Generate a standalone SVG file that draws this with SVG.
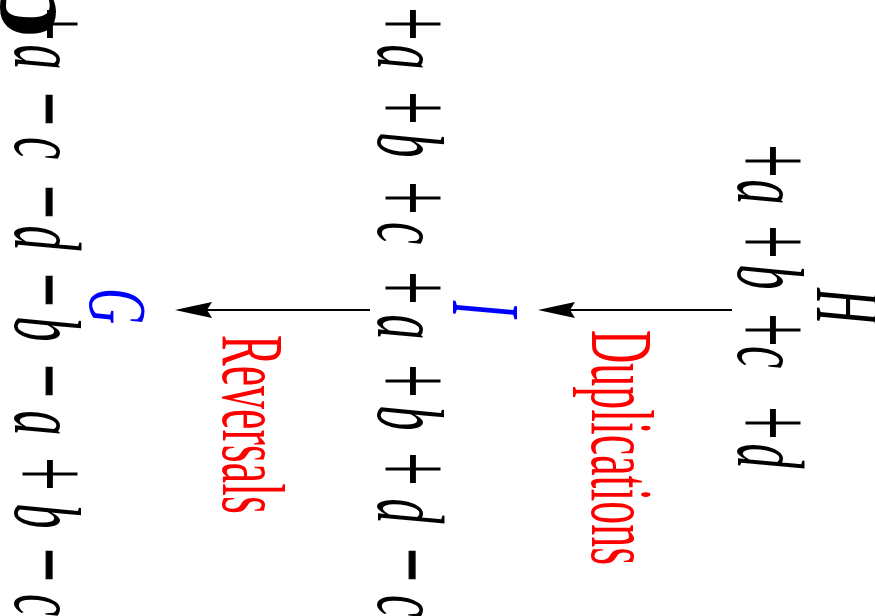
<svg xmlns="http://www.w3.org/2000/svg" width="875" height="616" viewBox="0 0 875 616">
<style>
  .m { font-family: "Liberation Serif", "Times New Roman", serif; font-style: italic; font-size: 50px; text-anchor: middle; fill: #000; }
  .op { font-family: "Liberation Serif", "Times New Roman", serif; font-size: 60px; text-anchor: middle; fill: #000; }
  .mi { stroke: #000; stroke-width: 0.6px; }
  .lbl { font-family: "Liberation Serif", "Times New Roman", serif; font-size: 46px; fill: #ff0000; }
  .blue { fill: #0000ff; }
  .conn { stroke: #000; stroke-width: 2; fill: none; }
  .head { fill: #000; stroke: none; }
  .panel { font-family: "Liberation Serif", "Times New Roman", serif; font-weight: bold; font-size: 116px; fill: #000; }
</style>

<g id="connectors">
  <line class="conn" x1="732" y1="310" x2="570" y2="310"/>
  <path class="head" d="M538,310 Q556,306 575,302 L570,310 L575,318 Q556,314 538,310 Z"/>
  <line class="conn" x1="370" y1="310" x2="207" y2="310"/>
  <path class="head" d="M175,310 Q193,306 212,302 L207,310 L212,318 Q193,314 175,310 Z"/>
</g>

<g id="edge-labels">
  <text class="lbl" transform="translate(592,330) rotate(90) scale(1,1.94)">Duplications</text>
  <text class="lbl" transform="translate(223,335) rotate(90) scale(1,1.94)">Reversals</text>
</g>

<g id="H">
  <text class="m" transform="translate(817,306) rotate(90) scale(1,1.85)">H</text>
  <text class="op" transform="translate(733,161) rotate(90) scale(1,1.97)">+</text>
  <text class="m" transform="translate(738,192) rotate(90) scale(1,1.9)">a</text>
  <text class="op" transform="translate(733,242) rotate(90) scale(1,1.97)">+</text>
  <text class="m" transform="translate(738,277) rotate(90) scale(1,1.9)">b</text>
  <text class="op" transform="translate(733,330) rotate(90) scale(1,1.97)">+</text>
  <text class="m" transform="translate(738,357) rotate(90) scale(1,1.9)">c</text>
  <text class="op" transform="translate(733,423) rotate(90) scale(1,1.97)">+</text>
  <text class="m" transform="translate(738,456) rotate(90) scale(1,1.9)">d</text>
</g>

<g id="I">
  <text class="m blue" transform="translate(453,309) rotate(90) scale(1,1.95)">I</text>
  <text class="op" transform="translate(373,24) rotate(90) scale(1,1.97)">+</text>
  <text class="m" transform="translate(378,57) rotate(90) scale(1,1.9)">a</text>
  <text class="op" transform="translate(373,108) rotate(90) scale(1,1.97)">+</text>
  <text class="m" transform="translate(378,145) rotate(90) scale(1,1.9)">b</text>
  <text class="op" transform="translate(373,198) rotate(90) scale(1,1.97)">+</text>
  <text class="m" transform="translate(378,233) rotate(90) scale(1,1.9)">c</text>
  <text class="op" transform="translate(373,288) rotate(90) scale(1,1.97)">+</text>
  <text class="m" transform="translate(378,327) rotate(90) scale(1,1.9)">a</text>
  <text class="op" transform="translate(373,381) rotate(90) scale(1,1.97)">+</text>
  <text class="m" transform="translate(378,418) rotate(90) scale(1,1.9)">b</text>
  <text class="op" transform="translate(373,469) rotate(90) scale(1,1.97)">+</text>
  <text class="m" transform="translate(378,511) rotate(90) scale(1,1.9)">d</text>
  <text class="op mi" transform="translate(373,565) rotate(90) scale(1,1.97)">−</text>
  <text class="m" transform="translate(378,606) rotate(90) scale(1,1.9)">c</text>
</g>

<g id="G">
  <text class="m blue" transform="translate(90,306) rotate(90) scale(1,1.65)">G</text>
  <text class="op" transform="translate(10,24) rotate(90) scale(1,1.97)">+</text>
  <text class="m" transform="translate(15,57) rotate(90) scale(1,1.9)">a</text>
  <text class="op mi" transform="translate(10,109) rotate(90) scale(1,1.97)">−</text>
  <text class="m" transform="translate(15,148) rotate(90) scale(1,1.9)">c</text>
  <text class="op mi" transform="translate(10,202) rotate(90) scale(1,1.97)">−</text>
  <text class="m" transform="translate(15,238) rotate(90) scale(1,1.9)">d</text>
  <text class="op mi" transform="translate(10,290) rotate(90) scale(1,1.97)">−</text>
  <text class="m" transform="translate(15,329) rotate(90) scale(1,1.9)">b</text>
  <text class="op mi" transform="translate(10,381) rotate(90) scale(1,1.97)">−</text>
  <text class="m" transform="translate(15,423) rotate(90) scale(1,1.9)">a</text>
  <text class="op" transform="translate(10,474) rotate(90) scale(1,1.97)">+</text>
  <text class="m" transform="translate(15,516) rotate(90) scale(1,1.9)">b</text>
  <text class="op mi" transform="translate(10,565) rotate(90) scale(1,1.97)">−</text>
  <text class="m" transform="translate(15,605) rotate(90) scale(1,1.9)">c</text>
</g>

<g id="panel-label">
  <text class="panel" transform="translate(1,-26) rotate(90)">b</text>
</g>
</svg>
